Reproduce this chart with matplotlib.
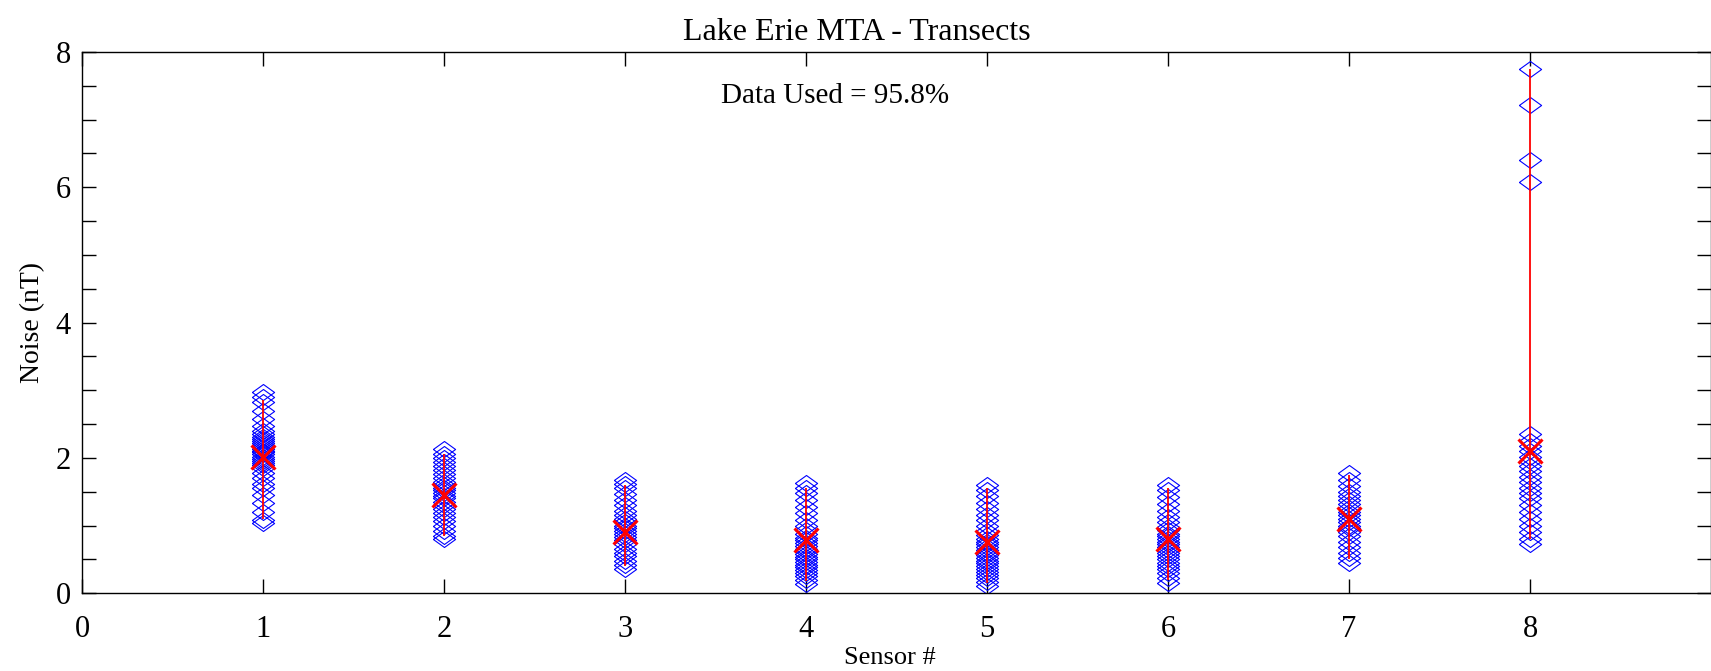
import matplotlib.pyplot as plt
from matplotlib.ticker import MultipleLocator

plt.rcParams['font.family'] = ['Liberation Serif', 'DejaVu Serif']

sensors = [1, 2, 3, 4, 5, 6, 7, 8]

# per-sensor noise samples (nT)
noise_s1 = [1.03, 1.08, 1.2, 1.33, 1.45, 1.55, 1.62, 1.7, 1.78, 1.85, 1.9, 1.93, 1.96, 1.99,
            2.02, 2.05, 2.08, 2.1, 2.13, 2.16, 2.19, 2.22, 2.25, 2.28, 2.31, 2.35, 2.4,
            2.47, 2.58, 2.7, 2.82, 2.9, 2.97]
noise_s2 = [0.8, 0.85, 0.92, 1.0, 1.06, 1.12, 1.18, 1.24, 1.3, 1.35, 1.4, 1.44, 1.48, 1.52,
            1.56, 1.6, 1.65, 1.7, 1.76, 1.82, 1.88, 1.94, 2.0, 2.06, 2.13]
noise_s3 = [0.35, 0.42, 0.48, 0.55, 0.6, 0.66, 0.72, 0.78, 0.83, 0.88, 0.92, 0.96, 1.0, 1.05,
            1.1, 1.16, 1.22, 1.3, 1.38, 1.46, 1.55, 1.62, 1.68]
noise_s4 = [0.13, 0.2, 0.26, 0.3, 0.34, 0.38, 0.42, 0.46, 0.5, 0.54, 0.58, 0.62, 0.66, 0.7,
            0.74, 0.78, 0.82, 0.87, 0.93, 1.0, 1.08, 1.18, 1.28, 1.38, 1.48, 1.56, 1.63]
noise_s5 = [0.1, 0.16, 0.22, 0.27, 0.32, 0.36, 0.4, 0.44, 0.48, 0.52, 0.56, 0.6, 0.64, 0.68,
            0.72, 0.76, 0.8, 0.86, 0.92, 1.0, 1.08, 1.16, 1.25, 1.34, 1.43, 1.52, 1.6]
noise_s6 = [0.15, 0.22, 0.3, 0.35, 0.4, 0.45, 0.5, 0.55, 0.6, 0.64, 0.68, 0.72, 0.76, 0.8,
            0.84, 0.88, 0.93, 0.98, 1.05, 1.13, 1.22, 1.32, 1.42, 1.52, 1.6]
noise_s7 = [0.45, 0.52, 0.6, 0.68, 0.76, 0.84, 0.9, 0.96, 1.0, 1.05, 1.1, 1.15, 1.2, 1.26,
            1.32, 1.38, 1.44, 1.5, 1.58, 1.67, 1.78]
noise_s8 = [0.72, 0.8, 0.9, 1.0, 1.1, 1.2, 1.3, 1.4, 1.48, 1.56, 1.64, 1.72, 1.8, 1.88,
            1.95, 2.02, 2.1, 2.18, 2.25, 2.35, 6.08, 6.4, 7.22, 7.75]
noise = [noise_s1, noise_s2, noise_s3, noise_s4, noise_s5, noise_s6, noise_s7, noise_s8]

# red markers: mean and bar ends
noise_mean = [2.02, 1.45, 0.9, 0.78, 0.76, 0.8, 1.1, 2.1]
bar_low = [1.1, 0.85, 0.4, 0.18, 0.15, 0.2, 0.5, 0.8]
bar_high = [2.85, 2.05, 1.6, 1.55, 1.55, 1.55, 1.75, 7.75]

title_text = 'Lake Erie MTA - Transects'
note_text = 'Data Used = 95.8%'

diamond = [(-1, 0), (0, 0.72), (1, 0), (0, -0.72), (-1, 0)]

fig = plt.figure(figsize=(17.11, 6.71), dpi=100)
ax = fig.add_axes([0.048, 0.116, 0.952, 0.8065])

for s, vals in zip(sensors, noise):
    ax.plot([s] * len(vals), vals, linestyle='none', marker=diamond, markersize=16,
            markerfacecolor='none', markeredgecolor='#0000ff', markeredgewidth=0.8)

err_lo = [m - lo for m, lo in zip(noise_mean, bar_low)]
err_hi = [hi - m for m, hi in zip(noise_mean, bar_high)]
ax.errorbar(sensors, noise_mean, yerr=[err_lo, err_hi], fmt='x', color='#ff0000',
            ecolor='#ff0000', elinewidth=1.3, capsize=0, markersize=17, markeredgewidth=2.2,
            zorder=3)

ax.set_xlim(0, 9)
ax.set_ylim(0, 8)
ax.xaxis.set_major_locator(MultipleLocator(1))
ax.yaxis.set_major_locator(MultipleLocator(2))
ax.yaxis.set_minor_locator(MultipleLocator(0.5))
ax.set_xticks(range(0, 9))
ax.tick_params(which='both', direction='in', top=True, right=True, length=10, width=1,
               labelsize=22)
ax.tick_params(axis='x', pad=16)
ax.tick_params(axis='y', pad=8)
for sp in ax.spines.values():
    sp.set_linewidth(1)

ax.set_xlabel('Sensor #', fontsize=19, va='baseline')
ax.xaxis.set_label_coords(0.496, -0.131)
ax.set_ylabel('Noise (nT)', fontsize=20, labelpad=8)
fig.text(857 / 1711, 1 - 33 / 671, title_text, fontsize=23, ha='center', va='center')
fig.text(835 / 1711, 1 - 96 / 671, note_text, fontsize=21, ha='center', va='center')

fig.savefig('out.png', dpi=100)
